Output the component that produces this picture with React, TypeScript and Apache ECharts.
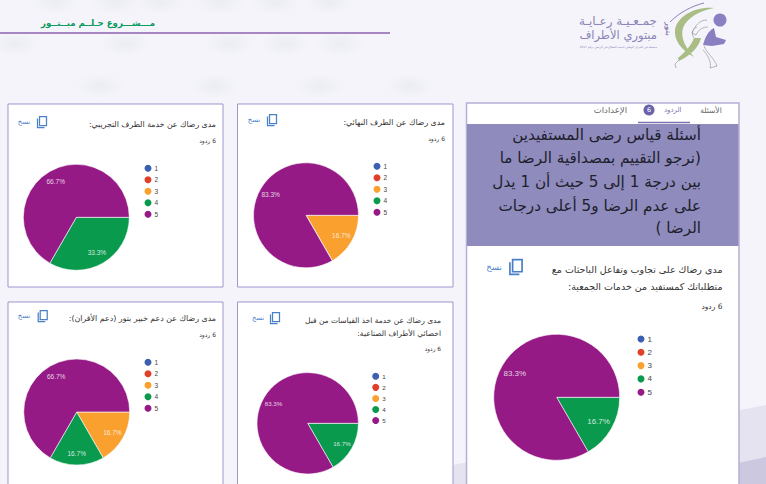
import React, { useEffect, useRef } from "react";
import * as echarts from "echarts";

// ---- data ----
const legendNames = ["1", "2", "3", "4", "5"];
const sliceColors = ["#3d5fb0", "#e0402a", "#f9a02e", "#0a9a4e", "#961a86"];
const valuesMain = [0, 0, 0, 1, 5];
const valuesFinalLimb = [0, 0, 1, 0, 5];
const valuesTrialLimb = [0, 0, 0, 2, 4];
const valuesPeer = [0, 0, 1, 1, 4];
const valuesMeasure = [0, 0, 0, 1, 5];

const projectTitle = "مـــشـــروع حـلــم مبــتــور";
const orgName1 = "جمـعـيـة رعـايـة";
const orgName2 = "مبتوري الأطراف";
const orgNote = "مسجلة في المركز الوطني لتنمية القطاع غير الربحي برقم 3317";
const logoMark = "بتور";
const tabQuestions = "الأسئلة";
const tabResponses = "الردود";
const tabSettings = "الإعدادات";
const tabCount = "6";
const bandLines = [
  "أسئلة قياس رضى المستفيدين",
  "(نرجو التقييم بمصداقية الرضا ما",
  "بين درجة 1 إلى 5 حيث أن 1 يدل",
  "على عدم الرضا و5 أعلى درجات",
  "الرضا )",
];
const copyLabel = "نسخ";
const responsesLabel = "6 ردود";
const titleMain = ["مدى رضاك على تجاوب وتفاعل الباحثات مع", "متطلباتك كمستفيد من خدمات الجمعية:"];
const titleFinal = ["مدى رضاك عن الطرف النهائي:"];
const titleTrial = ["مدى رضاك عن خدمة الطرف التجريبي:"];
const titlePeer = ["مدى رضاك عن دعم خبير بتور (دعم الأقران):"];
const titleMeasure = ["مدى رضاك عن خدمة اخذ القياسات من قبل", "اخصائي الأطراف الصناعية:"];

// ---- layout ----
const panels = [
  { values: valuesMain, cx: 556.7, cy: 397.3, r: 63, lx: 635.5, ly: 333.5, gap: 11.3, lf: 8, title: titleMain, tx: 722.5, ty: [269, 286], ry: 306, fs: 9.5, rs: 7.5, ix: 516, iy: 267, is: 1.35, nx: 494, lab: 8 },
  { values: valuesFinalLimb, cx: 306, cy: 215.3, r: 52.5, lx: 371.5, ly: 160.8, gap: 9.5, lf: 6.5, title: titleFinal, tx: 445, ty: [122], ry: 138, fs: 7.8, rs: 6, ix: 272, iy: 120, is: 1, nx: 254, lab: 6.5 },
  { values: valuesTrialLimb, cx: 76.3, cy: 217.3, r: 53, lx: 142.5, ly: 162.8, gap: 9.5, lf: 6.5, title: titleTrial, tx: 216, ty: [124], ry: 140, fs: 7.8, rs: 6, ix: 42, iy: 122, is: 1, nx: 24, lab: 6.5 },
  { values: valuesPeer, cx: 76.7, cy: 412, r: 53, lx: 142.5, ly: 356.8, gap: 9.5, lf: 6.5, title: titlePeer, tx: 216, ty: [318], ry: 334, fs: 7.9, rs: 6, ix: 42.7, iy: 316, is: 1, nx: 24, lab: 6.5 },
  { values: valuesMeasure, cx: 307.7, cy: 423.3, r: 50.7, lx: 370.2, ly: 370.8, gap: 9.07, lf: 6.2, title: titleMeasure, tx: 441, ty: [320, 333], ry: 349, fs: 7.5, rs: 5.8, ix: 275, iy: 318, is: 1, nx: 258, lab: 6.2 },
];

const boxes = [
  [466.5, 103, 272.5, 400],
  [237.5, 104, 215.5, 183],
  [8, 104, 215, 183],
  [8, 302, 215, 200],
  [237.5, 302, 215.5, 200],
];

const blotches = [
  [55, 2], [115, 2], [160, 2], [220, 2], [275, 2], [330, 2],
  [15, 44], [125, 44], [230, 44], [285, 44], [340, 44],
  [100, 86], [215, 86], [320, 86], [410, 86],
];

const ar = "'DejaVu Sans', 'Noto Sans', sans-serif";
const latin = "'Liberation Sans', Arial, sans-serif";
const rtl = (s: string) => `\u202B${s}\u202C`;

function T(x: number, y: number, text: string, size: number, fill: string, align = "right", extra: any = {}) {
  const { style, ...rest } = extra;
  return {
    type: "text",
    x,
    y,
    ...rest,
    style: { text, fontSize: size, fontFamily: ar, fill, align, textAlign: align, verticalAlign: "middle", textVerticalAlign: "middle", ...(style || {}) },
  };
}

function copyIcon(x: number, y: number, s: number) {
  const stroke = "#4a80c8";
  return [
    { type: "rect", shape: { x: x - 2.5 * s, y: y - 5.5 * s, width: 7 * s, height: 9 * s }, style: { fill: "#fff", stroke, lineWidth: 1.25 * s } },
    { type: "polyline", shape: { points: [[x - 4.5 * s, y - 3.5 * s], [x - 4.5 * s, y + 5.5 * s], [x + 2.5 * s, y + 5.5 * s]] }, style: { fill: "none", stroke, lineWidth: 1.25 * s } },
  ];
}

const crescent = "M714 8 C696 6 677 16 675 30 C674 40 681 50 694 57 C686 48 680 38 683 28 C687 17 700 11 714 8 Z";
const outerArc = "M670 22 C680 12 692 6 704 3";
const greenLeg = "M694 38 L701 38 C699 47 691 55 679 61 L678 58 C685 52 691 46 694 38 Z";
const purpleBody = "M714 28 C708 31 705 38 703 45 L712 46 L724 44 L726 40 L716 37 Z";
const limbOutline = "M707 20 C699 20 695 26 692 33 L696 35 C699 29 703 27 708 27 M704 46 C706 52 714 58 717 66 L710 68 C712 62 707 54 703 50 M694 38 C690 32 694 28 697 27 M679 60 L675 64 L676 68";
echarts.graphic.registerShape("logoCrescent", echarts.graphic.extendPath(crescent, {}));
echarts.graphic.registerShape("logoArc", echarts.graphic.extendPath(outerArc, {}));
echarts.graphic.registerShape("logoLeg", echarts.graphic.extendPath(greenLeg, {}));
echarts.graphic.registerShape("logoBody", echarts.graphic.extendPath(purpleBody, {}));
echarts.graphic.registerShape("logoLimb", echarts.graphic.extendPath(limbOutline, {}));

export default function App() {
  const ref = useRef<HTMLDivElement>(null);
  useEffect(() => {
    document.body.style.margin = "0";
    const chart = echarts.init(ref.current!, undefined, { renderer: "svg" });

    const blotchFill = () =>
      new echarts.graphic.RadialGradient(0.5, 0.5, 0.5, [
        { offset: 0, color: "rgba(205,205,220,0.22)" },
        { offset: 1, color: "rgba(205,205,220,0)" },
      ]);
    const graphics: any[] = blotches.map(([cx, cy]) => ({
      type: "ellipse",
      shape: { cx, cy, rx: 24, ry: 12 },
      style: { fill: blotchFill() },
    }));
    graphics.push(
      { type: "polygon", shape: { points: [[353, 484], [766, 405], [766, 484]] }, style: { fill: "#e4e3ef" } },
      { type: "polygon", shape: { points: [[640, 484], [766, 457], [766, 484]] }, style: { fill: "#cbc8e0" } },
      { type: "line", shape: { x1: 0, y1: 33, x2: 390, y2: 33 }, style: { stroke: "#a586c0", lineWidth: 2 } },
      T(155, 23, rtl(projectTitle), 8.6, "#0a9a5c", "right", { style: { fontWeight: "bold" } }),
      T(657, 21, rtl(orgName1), 12, "#8a84b8"),
      T(657, 35, rtl(orgName2), 11.5, "#8a84b8"),
      T(657, 47, rtl(orgNote), 2.9, "#8a84b8"),
      T(668, 29, rtl(logoMark), 7, "#8a84b8", "center", { rotation: -Math.PI / 2, style: { fontWeight: "bold" } }),
      { type: "logoCrescent", x: 0, y: 0, style: { fill: "#a9bd84" } },
      { type: "logoArc", x: 0, y: 0, style: { fill: "none", stroke: "#8a84b8", lineWidth: 1 } },
      { type: "logoLeg", x: 0, y: 0, style: { fill: "#a9bd84" } },
      { type: "logoBody", x: 0, y: 0, style: { fill: "#8a7fc0" } },
      { type: "logoLimb", x: 0, y: 0, style: { fill: "none", stroke: "#8a8a94", lineWidth: 0.6 } },
      { type: "circle", shape: { cx: 720, cy: 20, r: 6.5 }, style: { fill: "#8a7fc0" } }
    );
    boxes.forEach(([x, y, width, height], i) => {
      graphics.push({
        type: "rect",
        shape: { x, y, width, height },
        style: { fill: "#fff", stroke: i === 0 ? "#b5afd8" : "#9d97cf", lineWidth: i === 0 ? 1.5 : 1 },
      });
    });
    graphics.push(
      { type: "rect", shape: { x: 467, y: 124, width: 271.5, height: 122 }, style: { fill: "#8f8bbd" } },
      { type: "line", shape: { x1: 638, y1: 122.5, x2: 690, y2: 122.5 }, style: { stroke: "#7b74b0", lineWidth: 1.5 } },
      T(711, 110, rtl(tabQuestions), 7.5, "#666", "center"),
      T(672.7, 110, rtl(tabResponses), 7, "#7b74b0", "center"),
      { type: "circle", shape: { cx: 649, cy: 110, r: 5.5 }, style: { fill: "#6a63a8" } },
      T(649, 110, tabCount, 6.5, "#fff", "center"),
      T(627, 110, rtl(tabSettings), 8.5, "#666")
    );
    const bandY = [135, 158, 182, 206, 228];
    bandLines.forEach((line, i) => graphics.push(T(701, bandY[i], rtl(line), 15.2, "#20202c")));

    const series: any[] = [];
    const legends: any[] = [];
    panels.forEach((p) => {
      p.title.forEach((line, i) => graphics.push(T(p.tx, p.ty[i], rtl(line), p.fs, "#333")));
      graphics.push(T(p.tx, p.ry, rtl(responsesLabel), p.rs, "#333"));
      graphics.push(...copyIcon(p.ix, p.iy, p.is));
      graphics.push(T(p.nx, p.iy, rtl(copyLabel), p.rs * 1.15, "#4a80c8", "center"));

      const total = p.values.reduce((a, b) => a + b, 0);
      series.push({
        type: "pie",
        center: [p.cx, p.cy],
        radius: [0, p.r],
        startAngle: 0,
        clockwise: true,
        silent: true,
        label: { show: false },
        labelLine: { show: false },
        itemStyle: { borderColor: "#fff", borderWidth: 0.6 },
        data: p.values.map((value, i) => ({ name: legendNames[i], value, itemStyle: { color: sliceColors[i] } })),
      });
      series.push({
        type: "pie",
        center: [p.cx, p.cy],
        radius: [p.r * 0.44, p.r],
        startAngle: 0,
        clockwise: true,
        silent: true,
        labelLine: { show: false },
        itemStyle: { color: "transparent", borderWidth: 0, opacity: 0 },
        label: {
          show: true,
          position: "inside",
          formatter: (q: any) => `${((q.value / total) * 100).toFixed(1)}%`,
          fontSize: p.lab,
          fontFamily: latin,
          color: "rgba(255,255,255,0.8)",
          opacity: 1,
        },
        data: p.values.map((value, i) => ({ name: `label ${legendNames[i]}`, value, label: { show: value > 0, opacity: 1 } })),
      });
      legends.push({
        left: p.lx,
        top: p.ly,
        orient: "vertical",
        padding: 0,
        icon: "circle",
        itemWidth: 9,
        itemHeight: 9,
        itemGap: p.gap - 9,
        selectedMode: false,
        textStyle: { fontSize: p.lf, color: "#444", fontFamily: latin, padding: [0, 0, 0, -3], lineHeight: 9 },
        data: legendNames,
      });
    });

    chart.setOption({
      animation: false,
      backgroundColor: "#f4f4fa",
      legend: legends,
      series,
      graphic: { elements: graphics },
    });
    return () => chart.dispose();
  }, []);
  return <div ref={ref} style={{ position: "fixed", left: 0, top: 0, width: 766, height: 484 }} />;
}
